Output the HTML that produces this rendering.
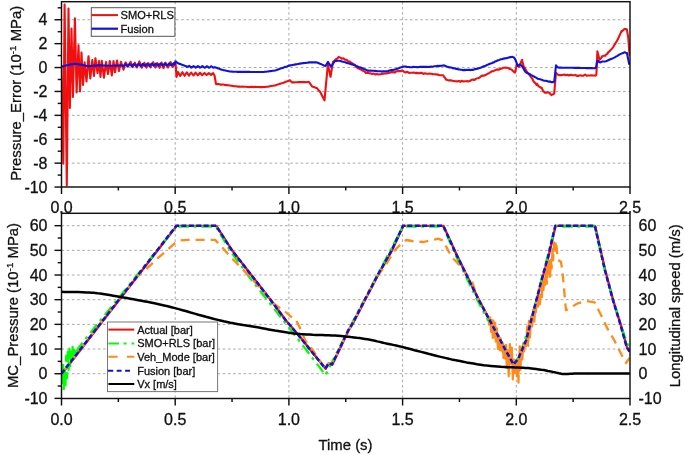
<!DOCTYPE html>
<html><head><meta charset="utf-8"><style>
html,body{margin:0;padding:0;background:#fff;}
svg{display:block;filter:blur(0.35px);}
text{font-family:"Liberation Sans",sans-serif;fill:#111;stroke:#111;stroke-width:0.3px;}
</style></head><body>
<svg width="685" height="455" viewBox="0 0 685 455">
<rect width="685" height="455" fill="#fff"/>
<defs>
<clipPath id="ct"><rect x="61.5" y="1.7" width="568.5" height="185.3"/></clipPath>
<clipPath id="cb"><rect x="61.5" y="213.3" width="568.5" height="185.2"/></clipPath>
</defs>
<g stroke="#a8a8a8" stroke-width="1" stroke-dasharray="2.6 2.6" fill="none">
<line x1="61.5" y1="19.75" x2="630.0" y2="19.75"/>
<line x1="61.5" y1="43.65" x2="630.0" y2="43.65"/>
<line x1="61.5" y1="67.55" x2="630.0" y2="67.55"/>
<line x1="61.5" y1="91.45" x2="630.0" y2="91.45"/>
<line x1="61.5" y1="115.35" x2="630.0" y2="115.35"/>
<line x1="61.5" y1="139.25" x2="630.0" y2="139.25"/>
<line x1="61.5" y1="163.15" x2="630.0" y2="163.15"/>
<line x1="61.5" y1="225.68" x2="630.0" y2="225.68"/>
<line x1="61.5" y1="250.35" x2="630.0" y2="250.35"/>
<line x1="61.5" y1="275.02" x2="630.0" y2="275.02"/>
<line x1="61.5" y1="299.69" x2="630.0" y2="299.69"/>
<line x1="61.5" y1="324.36" x2="630.0" y2="324.36"/>
<line x1="61.5" y1="349.03" x2="630.0" y2="349.03"/>
<line x1="61.5" y1="373.70" x2="630.0" y2="373.70"/>
<line x1="175.20" y1="1.7" x2="175.20" y2="187.0"/>
<line x1="175.20" y1="213.3" x2="175.20" y2="398.5"/>
<line x1="288.90" y1="1.7" x2="288.90" y2="187.0"/>
<line x1="288.90" y1="213.3" x2="288.90" y2="398.5"/>
<line x1="402.60" y1="1.7" x2="402.60" y2="187.0"/>
<line x1="402.60" y1="213.3" x2="402.60" y2="398.5"/>
<line x1="516.30" y1="1.7" x2="516.30" y2="187.0"/>
<line x1="516.30" y1="213.3" x2="516.30" y2="398.5"/>
</g>
<g clip-path="url(#ct)" fill="none" stroke-linejoin="round" stroke-linecap="round">
<path d="M61.5 67.5L63.3 163.6L64.6 4.6L66.8 185.5L68.5 8.5L69.9 108.0L71.5 28.5L72.9 97.0L74.9 18.2L76.6 92.4L78.5 45.4L80.0 91.5L81.5 52.6L83.0 85.0L84.6 62.3L86.5 81.5L88.5 56.2L90.3 78.5L92.3 60.0L94.0 76.0L95.4 58.2L97.5 73.0L99.0 61.0L100.5 77.0L101.8 60.8L104.0 77.7L106.0 62.0L108.0 74.0L109.8 61.0L111.8 75.4L113.5 61.0L115.0 72.3L117.0 60.5L119.0 71.0L121.0 61.8L123.5 69.7L125.6 62.4L128.1 66.6L130.6 61.8L132.8 67.1L134.9 62.7L137.1 67.5L139.4 61.4L141.8 67.7L144.4 62.8L146.5 67.7L148.4 63.1L150.6 67.4L153.2 62.1L155.4 67.5L157.5 63.2L159.6 67.8L161.6 62.5L163.5 68.1L165.5 62.7L168.0 67.5L170.5 62.0L172.9 66.8L175.5 62.5L176.5 77.0L178.0 72.0L180.2 75.9L182.4 72.2L184.6 75.8L186.8 72.3L189.0 75.6L191.2 72.5L193.4 75.5L195.6 72.6L197.8 75.3L200.0 72.8L202.2 75.2L204.4 72.9L206.6 75.0L208.8 73.1L211.0 74.8L213.2 73.2L214.5 75.5L216.0 84.0L217.0 84.1L218.6 84.1L220.2 84.6L221.8 84.6L222.0 84.5L223.4 84.5L225.0 84.9L226.6 85.1L228.2 85.3L229.8 85.5L230.0 85.5L231.4 85.7L233.0 86.0L234.6 86.3L236.2 86.3L237.0 86.5L237.8 86.6L239.4 86.5L241.0 86.7L242.6 86.6L244.2 86.7L245.8 86.8L247.4 87.0L249.0 87.1L250.0 87.0L250.6 86.9L252.2 86.9L253.8 87.1L255.4 86.8L257.0 87.0L258.6 87.0L260.2 87.1L261.8 87.1L263.4 87.0L265.0 87.0L265.0 87.0L266.6 86.7L268.2 86.7L269.8 86.2L271.4 86.0L273.0 85.8L274.6 85.5L275.0 85.5L276.2 85.1L277.8 84.4L279.4 84.0L281.0 83.4L282.6 83.0L284.2 82.4L285.8 81.8L287.4 81.3L289.0 80.6L290.0 80.3L290.6 81.0L292.0 82.4L292.2 82.4L293.8 82.4L295.4 82.2L297.0 82.3L298.6 82.1L300.2 82.0L301.8 82.1L303.4 82.0L305.0 82.1L306.6 82.3L308.2 81.9L309.0 82.0L309.8 83.1L311.4 85.5L312.0 86.4L313.0 86.8L314.6 87.3L316.2 87.9L317.0 88.2L317.8 89.2L319.4 91.1L320.0 91.7L321.0 93.5L322.6 96.7L324.2 99.8L324.5 100.4L325.8 86.3L327.4 69.9L327.9 64.5L329.0 69.4L330.5 76.8L330.6 76.5L332.2 66.7L333.0 61.9L333.8 61.3L335.4 59.7L337.0 58.6L338.4 57.5L338.6 56.9L340.2 57.6L341.8 58.7L343.4 58.3L345.0 59.8L345.0 59.5L346.6 59.7L348.2 61.4L349.8 61.6L351.4 63.0L351.5 62.8L353.0 64.0L354.6 64.7L356.2 67.0L357.8 68.3L358.0 68.0L359.4 68.8L361.0 69.7L362.6 70.6L364.2 71.3L365.5 72.4L365.8 72.9L367.4 72.7L369.0 73.2L370.6 73.4L372.0 74.0L372.2 73.8L373.8 73.6L375.4 74.5L377.0 74.1L378.6 74.5L380.2 74.2L381.3 74.2L381.8 73.9L383.4 73.8L385.0 73.4L386.6 73.4L388.2 73.0L389.8 72.7L391.4 72.1L392.0 72.5L393.0 72.0L394.6 72.6L396.2 71.4L397.8 71.0L399.4 71.1L401.0 71.2L401.4 70.6L402.6 70.7L404.2 71.9L405.0 72.4L405.8 72.2L407.4 71.9L409.0 72.9L410.6 72.7L412.2 72.8L413.8 72.6L415.4 73.1L417.0 72.9L418.6 73.1L420.0 73.2L420.2 72.8L421.8 72.9L423.4 73.9L425.0 73.3L426.6 73.7L428.2 73.7L429.8 73.6L430.0 73.8L431.4 73.8L433.0 74.3L434.6 74.2L436.2 74.4L437.8 74.6L439.4 75.2L441.0 75.2L442.6 75.3L443.0 75.2L444.2 76.8L445.8 78.9L445.8 79.4L447.4 80.0L449.0 80.4L450.6 80.3L452.0 80.6L452.2 80.8L453.8 81.0L455.4 81.2L457.0 81.4L458.6 81.0L459.8 81.3L460.2 81.8L461.8 80.8L463.4 81.5L465.0 81.3L466.6 81.3L467.0 81.0L468.2 81.5L469.8 81.1L471.4 79.9L473.0 79.4L473.8 79.9L474.6 79.9L476.2 78.5L477.8 78.2L479.4 77.8L481.0 76.3L482.6 75.5L484.2 75.6L484.3 75.5L485.8 74.8L487.4 73.9L489.0 73.2L490.6 72.1L492.2 71.1L493.0 71.2L493.8 70.9L495.4 70.1L497.0 69.4L498.6 69.7L500.2 69.0L501.8 68.6L503.4 67.7L504.4 67.7L505.0 67.6L506.6 67.7L508.2 68.1L509.0 68.5L509.8 69.0L511.4 69.5L512.3 70.3L513.0 71.0L514.6 72.4L515.0 72.6L516.2 67.4L516.7 64.2L517.8 65.0L519.0 66.8L519.4 66.2L521.0 62.1L522.0 59.8L522.6 62.2L524.0 67.7L524.2 67.1L525.8 69.8L527.4 72.7L529.0 74.4L529.8 75.5L530.6 76.6L532.2 78.6L533.8 81.7L535.4 83.1L536.6 84.8L537.0 83.8L538.6 86.4L540.2 87.2L541.8 88.0L543.2 91.4L543.4 91.1L545.0 92.8L546.6 92.6L548.2 92.3L549.8 93.0L549.8 93.6L551.4 95.1L552.0 94.7L553.0 94.3L554.2 93.6L554.6 89.0L556.0 72.7L556.2 72.9L557.8 74.6L558.0 74.8L559.4 75.1L561.0 75.1L562.6 75.0L564.2 74.6L565.8 75.2L567.4 74.8L569.0 75.5L570.6 74.7L572.2 75.2L573.8 75.3L575.0 75.3L575.4 74.8L577.0 75.9L578.6 75.9L580.2 75.2L581.8 75.7L583.4 75.6L585.0 74.5L586.6 75.6L588.2 75.5L589.8 75.5L591.4 75.2L593.0 75.5L594.6 75.5L595.6 75.6L596.2 74.8L596.4 74.0L597.4 51.2L597.8 52.9L599.4 59.2L599.5 59.6L601.0 58.3L602.3 56.2L602.6 56.0L604.2 55.8L605.4 55.8L605.8 54.7L607.4 53.8L608.5 51.9L609.0 51.7L610.6 50.1L612.2 48.4L613.0 47.3L613.8 46.0L615.4 43.4L617.0 40.7L617.7 39.6L618.6 37.5L620.2 34.1L621.5 31.2L621.8 31.5L623.4 29.9L624.6 28.8L625.0 28.9L626.6 29.3L626.9 29.6L628.2 37.2L628.3 38.0L629.5 55.0" stroke="#f01010" stroke-width="2.1"/>
<path d="M61.5 66.6L62.6 66.3L63.7 66.1L64.8 65.8L65.9 65.5L67.0 65.2L68.1 65.0L69.2 64.8L70.3 64.6L71.4 64.4L72.5 64.3L73.6 64.1L74.7 63.9L75.8 63.9L76.9 64.0L78.0 64.2L79.1 64.4L80.2 64.5L81.3 64.7L82.4 64.9L83.5 65.2L84.6 65.4L85.7 65.7L86.8 65.9L87.9 66.2L89.0 66.1L90.1 66.0L91.2 65.9L92.3 65.8L93.4 65.7L94.5 65.6L95.6 65.6L96.7 65.5L97.8 65.4L98.9 65.4L100.0 65.3L101.1 65.4L102.2 65.4L103.3 65.5L104.4 65.5L105.5 65.6L106.6 65.7L107.7 65.7L108.8 65.8L109.9 65.8L111.0 65.7L112.1 65.7L113.2 65.7L114.3 65.6L115.4 65.6L116.5 65.6L117.6 65.5L118.7 65.5L119.8 65.5L120.9 65.4L122.0 65.4L123.1 66.4L124.2 65.2L125.3 64.1L126.4 65.2L127.5 66.3L128.6 65.1L129.7 64.0L130.8 65.1L131.9 66.2L133.0 65.1L134.1 63.9L135.2 65.0L136.3 66.1L137.4 65.0L138.5 63.9L139.6 64.9L140.7 66.0L141.8 64.9L142.9 63.8L144.0 64.9L145.1 65.9L146.2 64.8L147.3 63.7L148.4 64.8L149.5 65.9L150.6 64.7L151.7 63.6L152.8 64.7L153.9 65.8L155.0 64.7L156.1 63.5L157.2 64.6L158.3 65.7L159.4 64.6L160.5 63.5L161.6 64.5L162.7 65.6L163.8 64.5L164.9 63.4L166.0 64.5L167.1 65.5L168.2 64.4L169.3 63.3L170.4 64.4L171.5 65.5L172.6 64.3L173.7 63.2L174.8 64.3L175.5 61.2L175.9 61.5L177.0 62.5L178.1 63.3L179.2 63.7L180.3 64.1L181.4 64.5L182.5 64.9L183.6 65.3L184.7 65.7L185.8 66.0L186.9 66.9L188.0 66.6L189.1 65.9L190.2 66.6L191.3 67.6L192.4 67.0L193.5 66.1L194.6 66.6L195.7 67.6L196.8 67.1L197.9 66.1L199.0 66.6L200.1 67.7L201.2 67.1L202.3 66.1L203.4 66.7L204.5 67.7L205.6 67.2L206.7 66.2L207.8 66.7L208.9 67.7L210.0 67.2L211.1 66.2L212.2 66.8L213.3 67.8L214.4 67.3L215.5 67.4L216.6 67.7L217.7 68.2L218.8 68.6L219.9 69.0L221.0 69.4L222.1 69.8L223.2 70.1L224.3 70.3L225.4 70.5L226.5 70.8L227.6 71.0L228.7 71.2L229.8 71.5L230.9 71.5L232.0 71.6L233.1 71.7L234.2 71.7L235.3 71.8L236.4 71.8L237.5 71.9L238.6 71.9L239.7 71.9L240.8 71.9L241.9 71.9L243.0 71.9L244.1 71.9L245.2 71.9L246.3 71.9L247.4 71.9L248.5 71.9L249.6 71.9L250.7 72.0L251.8 72.0L252.9 72.0L254.0 72.0L255.1 72.0L256.2 72.0L257.3 72.0L258.4 72.0L259.5 72.0L260.6 72.0L261.7 72.0L262.8 72.0L263.9 72.0L265.0 71.8L266.1 71.7L267.2 71.5L268.3 71.4L269.4 71.2L270.5 71.1L271.6 71.0L272.7 70.8L273.8 70.7L274.9 70.5L276.0 70.2L277.1 69.8L278.2 69.4L279.3 69.0L280.4 68.6L281.5 68.3L282.6 67.9L283.7 67.5L284.8 67.1L285.9 66.7L287.0 66.4L288.1 66.0L289.2 65.6L290.3 65.4L291.4 65.2L292.5 65.0L293.6 64.8L294.7 64.6L295.8 64.4L296.9 64.2L298.0 64.0L299.1 63.8L300.2 63.6L301.3 63.4L302.4 63.3L303.5 63.1L304.6 63.0L305.7 62.9L306.8 62.7L307.9 62.6L309.0 62.4L310.1 62.4L311.2 62.4L312.3 62.4L313.4 62.4L314.5 62.4L315.6 62.4L316.7 62.4L317.8 62.7L318.9 63.2L320.0 63.7L321.1 64.1L322.2 64.6L323.3 65.2L324.4 65.8L325.5 66.0L326.6 64.2L327.7 62.4L328.0 61.9L328.8 63.2L329.9 64.9L331.0 66.6L331.0 66.6L332.1 65.1L333.2 63.5L334.3 62.0L335.0 61.0L335.4 61.0L336.5 60.9L337.6 60.8L338.7 60.8L339.8 60.7L340.9 61.2L342.0 61.4L343.1 61.7L344.2 62.0L345.3 62.2L346.4 62.7L347.5 63.2L348.6 63.3L349.7 63.7L350.8 64.1L351.9 64.4L353.0 64.6L354.1 65.1L355.2 65.4L356.3 66.0L357.4 66.3L358.5 66.9L359.6 67.4L360.7 67.6L361.8 68.0L362.9 68.6L364.0 69.0L365.1 69.3L366.2 69.9L367.3 70.6L368.4 70.6L369.5 70.7L370.6 70.6L371.7 70.8L372.8 70.7L373.9 70.8L375.0 71.1L376.1 70.9L377.2 71.2L378.3 71.3L379.4 71.2L380.5 71.3L381.6 71.6L382.7 71.4L383.8 71.4L384.9 71.3L386.0 71.3L387.1 71.3L388.2 71.0L389.3 70.5L390.4 70.3L391.5 70.1L392.6 70.0L393.7 69.7L394.8 69.6L395.9 69.2L397.0 68.8L398.1 68.4L399.2 68.0L400.3 67.6L401.4 67.3L402.5 67.1L403.6 66.5L404.7 66.5L405.8 66.5L406.9 67.0L408.0 67.0L409.1 67.0L410.2 67.3L411.3 67.2L412.4 67.1L413.5 66.9L414.6 67.0L415.7 67.0L416.8 67.1L417.9 67.3L419.0 67.0L420.1 66.9L421.2 66.8L422.3 66.9L423.4 66.9L424.5 66.8L425.6 66.9L426.7 66.7L427.8 67.0L428.9 66.9L430.0 66.9L431.1 66.6L432.2 66.7L433.3 66.5L434.4 66.3L435.5 66.2L436.6 66.0L437.7 65.9L438.8 66.1L439.9 65.9L441.0 65.8L442.1 65.8L443.2 65.4L444.3 65.5L445.4 66.0L446.5 66.5L447.6 66.8L448.7 67.3L449.8 67.4L450.9 67.5L452.0 67.7L453.1 68.2L454.2 68.4L455.3 68.3L456.4 69.0L457.5 69.1L458.6 69.4L459.7 69.5L460.8 69.7L461.9 69.8L463.0 70.2L464.1 69.9L465.2 70.1L466.3 69.9L467.4 70.0L468.5 69.8L469.6 69.9L470.7 70.1L471.8 69.8L472.9 69.9L474.0 69.5L475.1 69.1L476.2 68.9L477.3 68.6L478.4 68.4L479.5 68.1L480.6 67.7L481.7 67.3L482.8 66.7L483.9 66.2L485.0 65.9L486.1 65.6L487.2 64.8L488.3 64.5L489.4 64.0L490.5 63.5L491.6 63.3L492.7 62.6L493.8 62.4L494.9 61.6L496.0 61.3L497.1 60.7L498.2 60.2L499.3 59.9L500.4 59.4L501.5 59.2L502.6 58.9L503.7 58.6L504.8 58.4L505.9 58.2L507.0 58.1L508.1 57.6L509.2 57.5L510.3 57.0L511.4 57.1L512.5 56.8L513.6 57.4L514.7 58.3L515.8 60.9L516.9 63.7L517.6 65.9L518.0 65.5L519.1 64.9L520.2 64.5L521.3 65.5L522.4 66.6L523.5 68.6L524.6 70.7L525.7 72.1L526.8 72.8L527.9 73.2L529.0 73.8L530.1 74.3L531.2 75.3L532.3 75.6L533.4 76.3L534.5 76.8L535.6 77.4L536.7 78.0L537.8 78.8L538.9 79.0L540.0 79.2L541.1 79.6L542.2 79.9L543.3 80.5L544.4 80.7L545.5 80.8L546.6 80.9L547.7 81.3L548.8 81.7L549.9 81.4L551.0 82.1L552.1 82.1L553.2 82.3L554.3 81.1L555.4 71.0L556.0 65.4L556.5 66.0L557.6 67.2L558.7 67.6L559.8 67.6L560.9 67.6L562.0 67.7L563.1 67.7L564.2 67.7L565.3 67.7L566.4 67.7L567.5 67.8L568.6 67.8L569.7 67.8L570.8 67.8L571.9 67.8L573.0 67.8L574.1 67.9L575.2 67.9L576.3 67.9L577.4 67.9L578.5 67.9L579.6 67.9L580.7 68.0L581.8 68.0L582.9 68.0L584.0 68.0L585.1 68.0L586.2 68.1L587.3 68.1L588.4 68.1L589.5 68.1L590.6 68.1L591.7 68.1L592.8 68.2L593.9 68.2L595.0 68.2L596.1 67.4L597.2 61.0L598.3 60.7L599.4 62.3L600.5 62.4L601.6 61.7L602.7 61.5L603.8 61.5L604.9 61.5L606.0 61.2L607.1 60.8L608.2 60.3L609.3 59.8L610.4 59.3L611.5 58.8L612.6 58.4L613.7 57.9L614.8 57.4L615.9 56.7L617.0 56.1L618.1 55.4L619.2 54.7L620.3 54.1L621.4 53.6L622.5 53.2L623.6 52.7L624.7 52.3L625.8 52.7L626.9 53.0L628.0 58.2L629.1 63.9" stroke="#1010e0" stroke-width="2.1"/>
</g>
<g clip-path="url(#cb)" fill="none" stroke-linejoin="round">
<path d="M61.8 373.9L176.6 225.9L216.3 225.9L232.3 250.6L251.1 274.7L270.6 299.8L285.8 320.2L300.3 337.3L325.6 368.7L328.9 363.4L332.3 364.7L348.7 330.2L352.3 324.6L365.2 299.8L378.0 275.2L391.9 250.6L403.3 225.9L443.5 225.9L456.9 255.2L478.9 299.8L496.9 333.4L506.8 352.1L513.9 364.7L518.3 359.2L522.3 350.2L526.6 340.0L531.0 322.4L541.3 282.2L548.3 257.2L555.6 225.9L595.1 225.9L605.2 270.2L613.1 299.9L621.0 325.6L627.0 347.4L629.8 351.7" stroke="#f01010" stroke-width="2.4"/>
<path d="M61.5 373.7L62.3 386.0L63.0 362.0L63.8 391.0L64.6 366.0L65.4 388.0L66.2 356.0L67.0 378.0L67.8 352.0L68.6 370.0L69.4 349.0L70.2 366.0L71.0 352.0L71.8 362.0L72.6 347.0L73.4 358.0L74.2 350.0L75.0 356.0L75.8 349.0L76.6 352.0L78.0 348.5L95.0 327.0L176.3 226.7L216.0 226.7L230.0 250.5L250.0 278.0L270.0 303.5L300.0 341.8L325.5 375.0L330.0 366.0L348.4 330.0L403.0 226.5L443.2 226.5L456.0 256.0L478.0 301.5L506.0 353.5L513.6 366.0L520.0 354.0L530.7 322.2L555.3 226.5L594.8 226.5L604.9 270.5L620.7 325.4L627.5 344.0L629.5 347.0" stroke="#00ff00" stroke-width="2.3" stroke-dasharray="10.6 4.6 3 4.9"/>
<path d="M61.5 373.7L135.3 278.5L146.5 268.8L157.0 258.9L166.9 250.3L174.9 243.1L180.1 240.4L188.0 239.8L215.0 239.8L221.0 246.0L230.3 256.7L241.7 268.1L254.0 281.3L262.0 290.2L273.3 303.3L279.5 307.7L285.6 312.0L291.8 317.3L296.0 320.0L301.0 330.0L305.0 340.0L313.0 350.5L325.3 368.5L328.6 363.2L332.0 364.5L348.4 330.0L352.0 324.4L364.9 299.6L377.7 275.0L381.7 270.5L386.0 264.5L390.0 258.0L395.0 250.0L400.0 245.0L406.3 240.0L414.3 241.4L423.5 242.0L438.0 238.7L443.0 240.5L447.9 249.9L451.8 257.2L457.0 262.4L465.0 272.6L472.0 281.4L477.5 297.9L484.0 310.0L489.0 319.0L489.0 325.3" stroke="#ff8c1a" stroke-width="2.3" stroke-dasharray="9 6"/>
<path d="M489.0 325.3L490.1 317.3L491.1 332.0L491.9 320.1L492.8 338.0L493.5 320.7L494.3 337.5L495.2 322.8L495.9 341.7L496.9 328.3L497.9 348.9L499.0 335.7L499.9 350.2L500.7 337.0L501.4 350.7L502.6 343.0L503.3 357.8L504.2 346.0L505.2 358.6L506.1 344.8L506.8 370.2L507.8 350.4L508.7 376.3L509.9 344.0L510.7 365.5L511.8 347.6L512.8 379.4L514.0 359.7L514.9 373.0L515.9 358.0L517.0 376.4L517.7 360.0L518.5 382.7L519.7 346.4L520.5 369.7L521.3 347.6L522.3 359.4L523.4 342.7L524.1 351.5L525.0 342.1L526.1 346.1L527.2 326.6L528.2 345.8L528.9 320.9L530.0 337.4L531.0 316.6L532.2 326.5L533.2 309.5L534.3 322.8L535.1 309.5L535.9 312.3L536.8 299.0L537.9 306.7L538.8 297.8L539.9 304.3L541.0 282.5L541.9 297.1L542.6 283.5L543.5 289.8L544.3 278.6L545.0 285.0L546.1 268.0L546.9 283.6L547.9 261.1L548.6 276.0L549.3 261.2L550.0 279.1L550.8 259.9L551.7 268.4L552.4 249.0L553.1 260.3L554.2 242.4L555.0 251.5" stroke="#ff8c1a" stroke-width="2.2" stroke-dasharray="30 3"/>
<path d="M555.0 251.5L555.9 240.9L557.9 259.7L561.0 262.0L562.5 272.0L565.5 305.0L566.0 310.2L570.0 308.0L577.0 303.7L586.0 301.0L594.5 302.3L601.5 316.1L606.9 327.4L614.8 341.3L621.7 355.1L626.0 363.0L629.5 358.0" stroke="#ff8c1a" stroke-width="2.3" stroke-dasharray="9 6"/>
<path d="M61.5 373.7L176.3 225.7L216.0 225.7L232.0 250.4L250.8 274.5L270.3 299.6L285.5 320.0L300.0 337.1L325.3 368.5L328.6 363.2L332.0 364.5L348.4 330.0L352.0 324.4L364.9 299.6L377.7 275.0L391.6 250.4L403.0 225.7L443.2 225.7L456.6 255.0L478.6 299.6L496.6 333.2L506.5 351.9L513.6 364.5L518.0 359.0L522.0 350.0L526.3 339.8L530.7 322.2L541.0 282.0L548.0 257.0L555.3 225.7L594.8 225.7L604.9 270.0L612.8 299.7L620.7 325.4L626.7 347.2L629.5 351.5" stroke="#1010e0" stroke-width="2.5" stroke-dasharray="5 2.4"/>
<path d="M61.5 291.8L64.3 291.9L68.3 291.9L73.0 292.0L77.9 292.1L82.5 292.3L86.3 292.4L89.2 292.5L91.5 292.7L93.4 292.8L95.4 293.0L97.5 293.3L100.0 293.6L103.0 294.0L106.2 294.5L109.6 295.1L113.1 295.7L116.6 296.3L120.0 296.9L123.4 297.5L126.9 298.1L130.3 298.7L133.7 299.3L137.0 299.9L140.0 300.5L142.7 301.0L145.1 301.4L147.3 301.8L149.5 302.2L151.9 302.7L154.6 303.3L157.6 304.0L160.9 304.7L164.2 305.5L167.8 306.3L171.4 307.2L175.0 308.1L178.7 309.1L182.6 310.2L186.6 311.3L190.6 312.5L194.6 313.6L198.4 314.7L202.2 315.7L205.9 316.8L209.6 317.8L213.2 318.7L216.8 319.6L220.3 320.5L223.7 321.3L227.1 322.0L230.3 322.7L233.6 323.3L236.8 323.9L240.0 324.5L243.2 325.1L246.4 325.6L249.5 326.1L252.7 326.6L255.8 327.1L259.0 327.6L262.2 328.2L265.3 328.8L268.5 329.4L271.7 330.0L274.8 330.6L278.0 331.1L281.2 331.6L284.3 332.1L287.5 332.6L290.7 333.0L293.8 333.5L297.0 333.8L300.2 334.1L303.3 334.3L306.4 334.5L309.6 334.6L312.7 334.8L315.9 334.9L319.1 335.0L322.2 335.1L325.4 335.2L328.6 335.3L331.7 335.4L334.9 335.6L338.1 335.8L341.3 336.1L344.6 336.4L347.8 336.7L350.9 337.1L353.9 337.4L356.8 337.8L359.5 338.1L362.2 338.5L364.9 338.9L367.4 339.3L370.0 339.8L372.5 340.3L374.9 340.8L377.2 341.4L379.6 341.9L382.0 342.5L384.6 343.1L387.3 343.7L390.2 344.3L393.1 344.9L396.0 345.5L399.1 346.2L402.1 346.9L405.1 347.7L408.2 348.5L411.3 349.3L414.5 350.2L417.7 351.0L421.1 351.9L424.6 352.8L428.4 353.8L432.2 354.7L436.0 355.7L439.6 356.6L443.0 357.4L446.1 358.1L448.9 358.8L451.6 359.4L454.3 359.9L457.0 360.5L460.0 361.1L463.2 361.7L466.5 362.4L470.0 363.0L473.5 363.6L477.0 364.2L480.4 364.7L483.8 365.2L487.2 365.6L490.7 365.9L494.1 366.2L497.5 366.5L500.9 366.8L504.4 367.0L508.1 367.2L511.7 367.3L515.3 367.5L518.5 367.6L521.3 367.7L523.6 367.8L525.3 367.9L526.8 368.0L528.2 368.1L529.8 368.3L531.6 368.5L533.8 368.8L536.2 369.1L538.8 369.4L541.3 369.8L543.7 370.1L545.9 370.5L547.9 370.9L549.7 371.2L551.5 371.6L553.1 372.0L554.6 372.3L556.0 372.6L557.3 372.9L558.4 373.1L559.4 373.4L560.4 373.6L561.3 373.8L562.2 373.9L563.0 374.0L563.8 374.0L564.5 374.0L565.2 374.0L566.0 373.9L567.0 373.9L568.2 373.9L569.7 373.8L571.3 373.7L572.8 373.7L574.1 373.6L575.0 373.6L630.0 373.6" stroke="#000" stroke-width="2.5"/>
</g>
<g stroke="#111" stroke-width="1.45" fill="none">
<rect x="61.5" y="1.7" width="568.5" height="185.3"/>
<rect x="61.5" y="213.3" width="568.5" height="185.2"/>
<line x1="54.5" y1="187.05" x2="61.5" y2="187.05"/>
<line x1="57.7" y1="175.10" x2="61.5" y2="175.10"/>
<line x1="54.5" y1="163.15" x2="61.5" y2="163.15"/>
<line x1="57.7" y1="151.20" x2="61.5" y2="151.20"/>
<line x1="54.5" y1="139.25" x2="61.5" y2="139.25"/>
<line x1="57.7" y1="127.30" x2="61.5" y2="127.30"/>
<line x1="54.5" y1="115.35" x2="61.5" y2="115.35"/>
<line x1="57.7" y1="103.40" x2="61.5" y2="103.40"/>
<line x1="54.5" y1="91.45" x2="61.5" y2="91.45"/>
<line x1="57.7" y1="79.50" x2="61.5" y2="79.50"/>
<line x1="54.5" y1="67.55" x2="61.5" y2="67.55"/>
<line x1="57.7" y1="55.60" x2="61.5" y2="55.60"/>
<line x1="54.5" y1="43.65" x2="61.5" y2="43.65"/>
<line x1="57.7" y1="31.70" x2="61.5" y2="31.70"/>
<line x1="54.5" y1="19.75" x2="61.5" y2="19.75"/>
<line x1="57.7" y1="7.80" x2="61.5" y2="7.80"/>
<line x1="54.5" y1="398.37" x2="61.5" y2="398.37"/>
<line x1="57.7" y1="386.03" x2="61.5" y2="386.03"/>
<line x1="54.5" y1="373.70" x2="61.5" y2="373.70"/>
<line x1="57.7" y1="361.37" x2="61.5" y2="361.37"/>
<line x1="54.5" y1="349.03" x2="61.5" y2="349.03"/>
<line x1="57.7" y1="336.69" x2="61.5" y2="336.69"/>
<line x1="54.5" y1="324.36" x2="61.5" y2="324.36"/>
<line x1="57.7" y1="312.02" x2="61.5" y2="312.02"/>
<line x1="54.5" y1="299.69" x2="61.5" y2="299.69"/>
<line x1="57.7" y1="287.36" x2="61.5" y2="287.36"/>
<line x1="54.5" y1="275.02" x2="61.5" y2="275.02"/>
<line x1="57.7" y1="262.69" x2="61.5" y2="262.69"/>
<line x1="54.5" y1="250.35" x2="61.5" y2="250.35"/>
<line x1="57.7" y1="238.01" x2="61.5" y2="238.01"/>
<line x1="54.5" y1="225.68" x2="61.5" y2="225.68"/>
<line x1="61.50" y1="187.0" x2="61.50" y2="194.0"/>
<line x1="61.50" y1="398.5" x2="61.50" y2="405.5"/>
<line x1="118.35" y1="187.0" x2="118.35" y2="190.5"/>
<line x1="118.35" y1="398.5" x2="118.35" y2="402.0"/>
<line x1="175.20" y1="187.0" x2="175.20" y2="194.0"/>
<line x1="175.20" y1="398.5" x2="175.20" y2="405.5"/>
<line x1="232.05" y1="187.0" x2="232.05" y2="190.5"/>
<line x1="232.05" y1="398.5" x2="232.05" y2="402.0"/>
<line x1="288.90" y1="187.0" x2="288.90" y2="194.0"/>
<line x1="288.90" y1="398.5" x2="288.90" y2="405.5"/>
<line x1="345.75" y1="187.0" x2="345.75" y2="190.5"/>
<line x1="345.75" y1="398.5" x2="345.75" y2="402.0"/>
<line x1="402.60" y1="187.0" x2="402.60" y2="194.0"/>
<line x1="402.60" y1="398.5" x2="402.60" y2="405.5"/>
<line x1="459.45" y1="187.0" x2="459.45" y2="190.5"/>
<line x1="459.45" y1="398.5" x2="459.45" y2="402.0"/>
<line x1="516.30" y1="187.0" x2="516.30" y2="194.0"/>
<line x1="516.30" y1="398.5" x2="516.30" y2="405.5"/>
<line x1="573.15" y1="187.0" x2="573.15" y2="190.5"/>
<line x1="573.15" y1="398.5" x2="573.15" y2="402.0"/>
<line x1="630.00" y1="187.0" x2="630.00" y2="194.0"/>
<line x1="630.00" y1="398.5" x2="630.00" y2="405.5"/>
</g>
<g font-size="16">
<text x="47.5" y="25.45" text-anchor="end">4</text>
<text x="47.5" y="49.35" text-anchor="end">2</text>
<text x="47.5" y="73.25" text-anchor="end">0</text>
<text x="47.5" y="97.15" text-anchor="end">-2</text>
<text x="47.5" y="121.05" text-anchor="end">-4</text>
<text x="47.5" y="144.95" text-anchor="end">-6</text>
<text x="47.5" y="168.85" text-anchor="end">-8</text>
<text x="47.5" y="192.75" text-anchor="end">-10</text>
<text x="47.5" y="231.38" text-anchor="end">60</text>
<text x="638.5" y="231.38">60</text>
<text x="47.5" y="256.05" text-anchor="end">50</text>
<text x="638.5" y="256.05">50</text>
<text x="47.5" y="280.72" text-anchor="end">40</text>
<text x="638.5" y="280.72">40</text>
<text x="47.5" y="305.39" text-anchor="end">30</text>
<text x="638.5" y="305.39">30</text>
<text x="47.5" y="330.06" text-anchor="end">20</text>
<text x="638.5" y="330.06">20</text>
<text x="47.5" y="354.73" text-anchor="end">10</text>
<text x="638.5" y="354.73">10</text>
<text x="47.5" y="379.40" text-anchor="end">0</text>
<text x="638.5" y="379.40">0</text>
<text x="47.5" y="404.07" text-anchor="end">-10</text>
<text x="638.5" y="404.07">-10</text>
<text x="61.50" y="212.6" text-anchor="middle">0.0</text>
<text x="61.50" y="424.6" text-anchor="middle">0.0</text>
<text x="175.20" y="212.6" text-anchor="middle">0.5</text>
<text x="175.20" y="424.6" text-anchor="middle">0.5</text>
<text x="288.90" y="212.6" text-anchor="middle">1.0</text>
<text x="288.90" y="424.6" text-anchor="middle">1.0</text>
<text x="402.60" y="212.6" text-anchor="middle">1.5</text>
<text x="402.60" y="424.6" text-anchor="middle">1.5</text>
<text x="516.30" y="212.6" text-anchor="middle">2.0</text>
<text x="516.30" y="424.6" text-anchor="middle">2.0</text>
<text x="630.00" y="212.6" text-anchor="middle">2.5</text>
<text x="630.00" y="424.6" text-anchor="middle">2.5</text>
</g>
<!-- top legend -->
<rect x="91.3" y="7.7" width="83.6" height="28.6" fill="#fff" stroke="#555" stroke-width="1"/>
<line x1="91.5" y1="15.1" x2="118" y2="15.1" stroke="#f01010" stroke-width="2"/>
<line x1="91.5" y1="28.7" x2="118" y2="28.7" stroke="#1010e0" stroke-width="2.2"/>
<text x="120.5" y="19.3" font-size="11.1">SMO+RLS</text>
<text x="120.5" y="32.9" font-size="11.1">Fusion</text>
<!-- bottom legend -->
<rect x="107.5" y="322" width="110.1" height="69.6" fill="#fff" stroke="#777" stroke-width="1"/>
<line x1="108.4" y1="329.6" x2="134.3" y2="329.6" stroke="#f01010" stroke-width="2"/>
<path d="M108.4 343.5H119M123.6 343.5H126.6M131.5 343.5H134.3" stroke="#00ff00" stroke-width="2"/>
<path d="M108.4 356.8H117.6M127 356.8H134.3" stroke="#ff8c1a" stroke-width="2"/>
<path d="M107.9 370.7H113.2M116.7 370.7H121.6M125.1 370.7H130" stroke="#1010e0" stroke-width="2.1"/>
<line x1="108.4" y1="384" x2="134.3" y2="384" stroke="#000" stroke-width="2"/>
<g font-size="11">
<text x="137.2" y="333.7">Actual [bar]</text>
<text x="137.2" y="347.4">SMO+RLS [bar]</text>
<text x="137.2" y="360.9">Veh_Mode [bar]</text>
<text x="137.2" y="374.6">Fusion [bar]</text>
<text x="137.2" y="388.1">Vx [m/s]</text>
</g>
<!-- axis titles -->
<g font-size="14.9">
<text transform="translate(21.2 93.3) rotate(-90)" text-anchor="middle">Pressure_Error (10<tspan dy="-5" font-size="9.8">-1</tspan><tspan dy="5"> MPa)</tspan></text>
<text transform="translate(17.5 305.5) rotate(-90)" text-anchor="middle">MC_Pressure (10<tspan dy="-5" font-size="9.8">-1</tspan><tspan dy="5"> MPa)</tspan></text>
<text transform="translate(679.6 305.8) rotate(-90)" text-anchor="middle">Longitudinal speed (m/s)</text>
<text x="345.5" y="450.4" text-anchor="middle">Time (s)</text>
</g>
</svg>
</body></html>
